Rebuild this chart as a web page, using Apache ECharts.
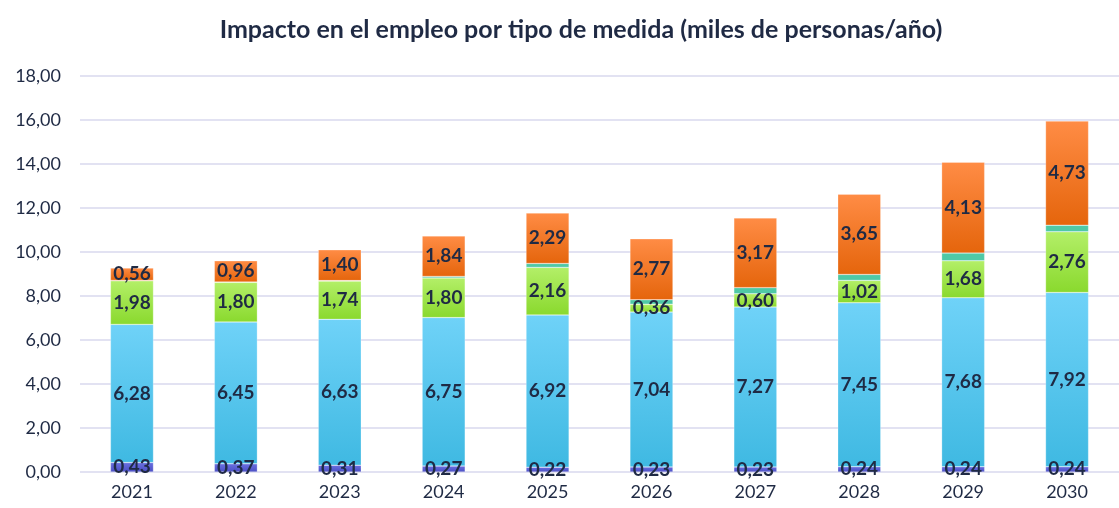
<!DOCTYPE html>
<html>
<head>
<meta charset="utf-8">
<script src="https://cdn.jsdelivr.net/npm/echarts@6/dist/echarts.min.js"></script>
<style>
  html, body { margin: 0; padding: 0; background: #fff; }
  #chart { width: 1119px; height: 508px; }
</style>
</head>
<body>
<div id="chart"></div>
<script>
// años
const years = ['2021', '2022', '2023', '2024', '2025', '2026', '2027', '2028', '2029', '2030']
// series (miles de personas/año), de abajo a arriba
const serieAzulOscuro = [0.43, 0.37, 0.31, 0.27, 0.22, 0.23, 0.23, 0.24, 0.24, 0.24]
const serieAzulClaro = [6.28, 6.45, 6.63, 6.75, 6.92, 7.04, 7.27, 7.45, 7.68, 7.92]
const serieVerde = [1.98, 1.80, 1.74, 1.80, 2.16, 0.36, 0.60, 1.02, 1.68, 2.76]
const serieTurquesa = [0.02, 0.02, 0.02, 0.07, 0.18, 0.2, 0.28, 0.27, 0.35, 0.3]
const serieNaranja = [0.56, 0.96, 1.40, 1.84, 2.29, 2.77, 3.17, 3.65, 4.13, 4.73]

const font = 'Lato, "Open Sans", sans-serif'
const textColor = '#1f2a44'

const grad = (top, bottom) => new echarts.graphic.LinearGradient(0, 0, 0, 1, [
  { offset: 0, color: top },
  { offset: 1, color: bottom }
])

const label = {
  show: true,
  position: 'inside',
  color: textColor,
  fontFamily: font,
  fontWeight: 'bold',
  fontSize: 19,
  formatter: (p) => p.value.toFixed(2).replace('.', ',')
}

const mkSeries = (name, data, color, showLabel) => ({
  name: name,
  type: 'bar',
  stack: 'total',
  barWidth: 43,
  data: data,
  itemStyle: { color: color, borderColor: 'rgba(255,255,255,0.5)', borderWidth: 0.5 },
  label: showLabel ? label : { show: false },
  labelLayout: { hideOverlap: false }
})

const chart = echarts.init(document.getElementById('chart'))
chart.setOption({
  animation: false,
  title: {
    text: 'Impacto en el empleo por tipo de medida (miles de personas/año)',
    left: 576,
    textAlign: 'center',
    top: 12,
    textStyle: { fontFamily: font, fontWeight: 'bold', fontSize: 25, color: textColor }
  },
  grid: { left: 80, top: 76, width: 1058, height: 396 },
  xAxis: {
    type: 'category',
    data: years,
    axisLine: { show: false },
    axisTick: { show: false },
    axisLabel: { color: textColor, fontFamily: font, fontSize: 18, margin: 11 }
  },
  yAxis: {
    type: 'value',
    min: 0,
    max: 18,
    interval: 2,
    axisLine: { show: false },
    axisTick: { show: false },
    splitLine: { lineStyle: { color: '#d8d8ee', width: 1.5 } },
    axisLabel: {
      color: textColor,
      fontFamily: font,
      fontSize: 18,
      margin: 19,
      formatter: (v) => v.toFixed(2).replace('.', ',')
    }
  },
  series: [
    mkSeries('a', serieAzulOscuro, grad('#6a6fe0', '#4b4fc4'), true),
    mkSeries('b', serieAzulClaro, grad('#6fd2f8', '#3fb9e2'), true),
    mkSeries('c', serieVerde, grad('#b3ef68', '#8ad92e'), true),
    mkSeries('d', serieTurquesa, '#4fc9a6', false),
    mkSeries('e', serieNaranja, grad('#ff8c45', '#e5650c'), true)
  ]
})
</script>
</body>
</html>
